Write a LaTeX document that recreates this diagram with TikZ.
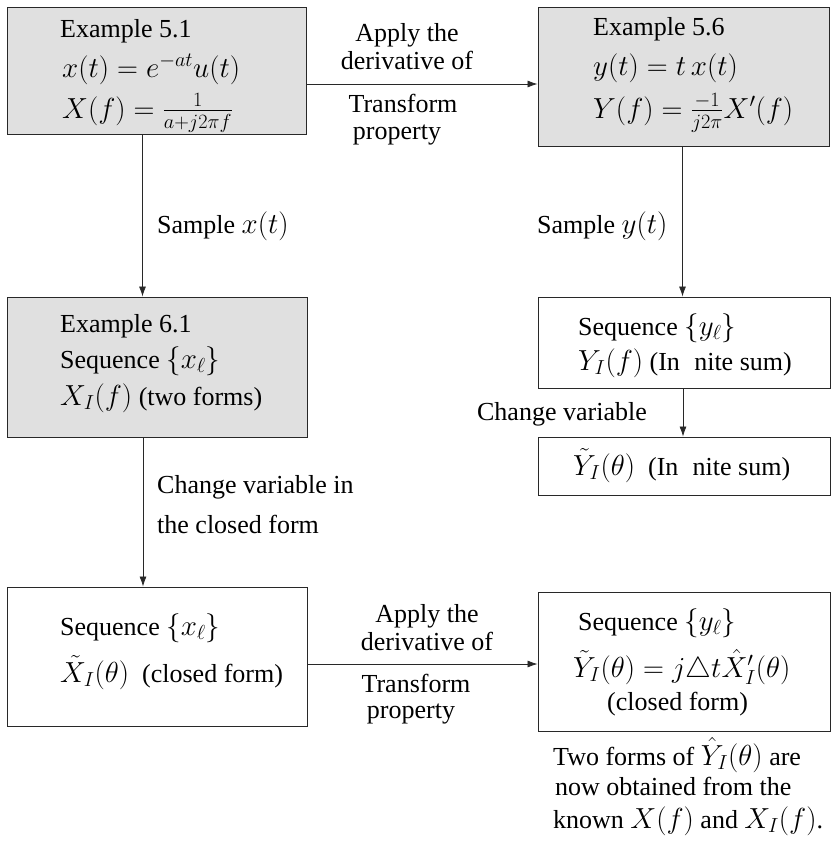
\RequirePackage{fix-cm}
\documentclass[tikz,border=0pt]{standalone}
\usepackage{amsmath}
\usepackage{fontspec}
\setmainfont{Liberation Serif}
\DeclareMathSizes{26}{29}{20.3}{14.5}
\usetikzlibrary{arrows.meta}
\definecolor{boxgray}{RGB}{224,224,224}
\definecolor{edge}{RGB}{40,40,40}
\begin{document}
\begin{tikzpicture}[x=1pt,y=-1pt,
  box/.style={draw=edge,line width=0.9pt,rectangle,inner sep=0pt},
  shaded/.style={box,fill=boxgray},
  txt/.style={inner sep=0pt,anchor=base west,font=\fontsize{26}{31}\selectfont},
  txtc/.style={txt,anchor=base},
  txte/.style={txt,anchor=base east},
  arr/.style={draw=edge,line width=0.8pt,-{Latex[length=10pt,width=7pt]}}]
\useasboundingbox (0,0) rectangle (832,841);
% boxes
\node[shaded,minimum width=299pt,minimum height=127pt] (A) at (156.5,70.5) {};
\node[shaded,minimum width=291pt,minimum height=139pt] (B) at (683.5,76.5) {};
\node[shaded,minimum width=300pt,minimum height=140pt] (C) at (157,367) {};
\node[box,minimum width=292pt,minimum height=91pt] (D) at (684,342.5) {};
\node[box,minimum width=292pt,minimum height=58pt] (E) at (684,466) {};
\node[box,minimum width=300pt,minimum height=139pt] (F) at (157,656.5) {};
\node[box,minimum width=292pt,minimum height=139pt] (G) at (684,661.5) {};
% box texts
\node[txt] (a1) at (60,37) {Example 5.1};
\node[txt] (a2) at (62,77) {$x(t)=e^{-at}u(t)$};
\node[txt] (a3) at (62,118) {$X(f)=\frac{1}{a+j2\pi f}$};
\node[txt] (b1) at (593,35) {Example 5.6};
\node[txt] (b2) at (593,75) {$y(t)=t\,x(t)$};
\node[txt] (b3) at (593,118) {$Y(f)=\frac{-1}{j2\pi}X'(f)$};
\node[txt] (c1) at (60,332) {Example 6.1};
\node[txt] (c2) at (60,368) {Sequence $\{x_\ell\}$};
\node[txt] (c3) at (60,405) {$X_I(f)$ (two forms)};
\node[txt] (d1) at (578,335) {Sequence $\{y_\ell\}$};
\node[txt] (d2) at (578,370) {$Y_I(f)$ (In\hspace{0.55em}nite sum)};
\node[txt] (e1) at (573,475) {$\tilde{Y}_I(\theta)$\ \ (In\hspace{0.55em}nite sum)};
\node[txt] (f1) at (60,635) {Sequence $\{x_\ell\}$};
\node[txt] (f2) at (60,682) {$\tilde{X}_I(\theta)$\ \ (closed form)};
\node[txt] (g1) at (578,630) {Sequence $\{y_\ell\}$};
\node[txt] (g2) at (573,677) {$\tilde{Y}_I(\theta)=j\triangle t\hat{X}'_I(\theta)$};
\node[txt] (g3) at (607,710) {(closed form)};
% connectors
\draw[arr] ([yshift=-13.5pt]A.east) -- ([yshift=-13.5pt]A.east -| B.west);
\draw[arr] ([xshift=-14pt]A.south) -- ([xshift=-14pt]A.south |- C.north);
\draw[arr] ([xshift=-14pt]C.south) -- ([xshift=-14pt]C.south |- F.north);
\draw[arr] ([xshift=-1pt]B.south) -- ([xshift=-1pt]B.south |- D.north);
\draw[arr] ([xshift=-1pt]D.south) -- ([xshift=-1pt]D.south |- E.north);
\draw[arr] ([yshift=-7.5pt]F.east) -- ([yshift=-7.5pt]F.east -| G.west);
% connector labels
\node[txtc] (l1) at (407,41) {Apply the};
\node[txtc] (l2) at (407,69) {derivative of};
\node[txtc] (l3) at (403,112) {Transform};
\node[txtc] (l4) at (397,139) {property};
\node[txt] (sx) at (157,233) {Sample $x(t)$};
\node[txt] (sy) at (537,233) {Sample $y(t)$};
\node[txte] (cv) at (647,420) {Change variable};
\node[txt] (cv1) at (157,493) {Change variable in};
\node[txt] (cv2) at (157,533) {the closed form};
\node[txtc] (m1) at (427,622) {Apply the};
\node[txtc] (m2) at (427,650) {derivative of};
\node[txtc] (m3) at (416,692) {Transform};
\node[txtc] (m4) at (411,718) {property};
% note
\node[txt] (n1) at (553,765) {Two forms of $\hat{Y}_I(\theta)$ are};
\node[txt] (n2) at (555,795) {now obtained from the};
\node[txt] (n3) at (553,828) {known $X(f)$ and $X_I(f)$.};
\end{tikzpicture}
\end{document}
